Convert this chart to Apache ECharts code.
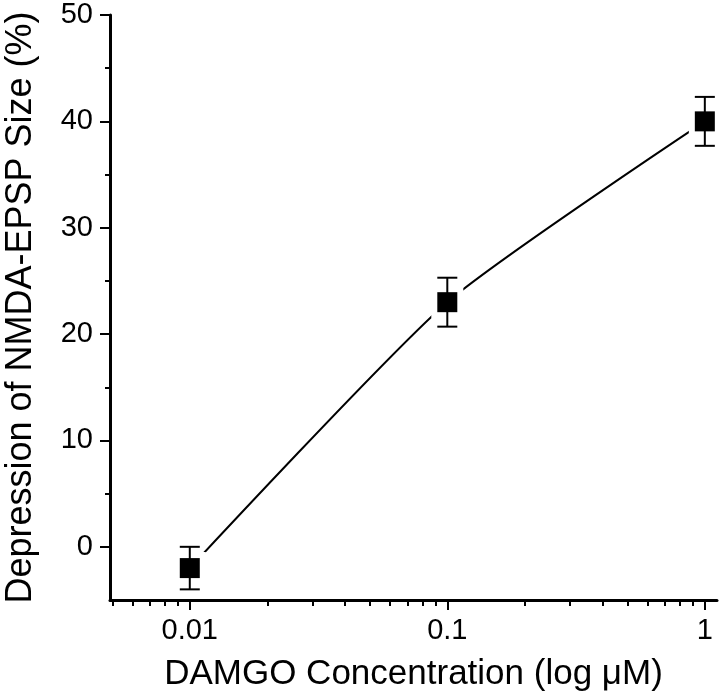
<!DOCTYPE html>
<html>
<head>
<meta charset="utf-8">
<script src="https://cdn.jsdelivr.net/npm/echarts@6/dist/echarts.min.js"></script>
<style>
html,body{margin:0;padding:0;background:#fff;}
#chart{width:720px;height:696px;}
</style>
</head>
<body>
<div id="chart"></div>
<script>
// Data
var concentrations = [0.01, 0.1, 1];          // DAMGO (µM)
var depression = [-2, 23, 40];                // % depression
var sem = [2, 2.3, 2.3];                       // error bar half-length
var xMajorTicks = [0.01, 0.1, 1];
var xMinorTicks = [0.005, 0.006, 0.007, 0.008, 0.009,
                   0.02, 0.03, 0.04, 0.05, 0.06, 0.07, 0.08, 0.09,
                   0.2, 0.3, 0.4, 0.5, 0.6, 0.7, 0.8, 0.9];
var yMajorTicks = [0, 10, 20, 30, 40, 50];
var yMinorTicks = [5, 15, 25, 35, 45];

var FONT = "'Liberation Sans', Arial, Helvetica, sans-serif";

var points = concentrations.map(function (c, i) { return [c, depression[i]]; });
var bars = concentrations.map(function (c, i) { return [c, depression[i] - sem[i], depression[i] + sem[i]]; });

var chart = echarts.init(document.getElementById('chart'), null, {renderer: 'canvas'});

var xBase = {
  type: 'log', logBase: 10, min: 0.0049, max: 1.115,
  splitLine: {show: false}, minorTick: {show: false}, minorSplitLine: {show: false}
};
var yBase = {
  type: 'value', min: -5, max: 50,
  splitLine: {show: false}, minorTick: {show: false}
};

var option = {
  backgroundColor: '#fff',
  animation: false,
  grid: {left: 110, right: 3, top: 15, bottom: 96, containLabel: false, outerBoundsMode: 'none'},
  xAxis: [
    Object.assign({}, xBase, {
      position: 'bottom',
      name: 'DAMGO Concentration (log \u03BCM)',
      nameLocation: 'middle', nameGap: 57,
      nameTextStyle: {fontFamily: FONT, fontSize: 35, color: '#000'},
      axisLine: {show: true, onZero: false, lineStyle: {color: '#000', width: 3}},
      axisTick: {show: true, inside: false, length: 10, lineStyle: {color: '#000', width: 2}, customValues: xMajorTicks},
      axisLabel: {show: true, margin: 16, fontFamily: FONT, fontSize: 29, color: '#000', customValues: xMajorTicks,
        formatter: function (v) { return String(v); }}
    }),
    Object.assign({}, xBase, {
      position: 'bottom',
      axisLine: {show: false, onZero: false},
      axisTick: {show: true, inside: false, length: 6, lineStyle: {color: '#000', width: 2}, customValues: xMinorTicks},
      axisLabel: {show: false}
    })
  ],
  yAxis: [
    Object.assign({}, yBase, {
      position: 'left',
      name: 'Depression of NMDA-EPSP Size (%)',
      nameLocation: 'middle', nameGap: 71,
      nameTextStyle: {fontFamily: FONT, fontSize: 36, color: '#000'},
      axisLine: {show: true, onZero: false, lineStyle: {color: '#000', width: 3}},
      axisTick: {show: true, inside: false, length: 10, lineStyle: {color: '#000', width: 2}, customValues: yMajorTicks},
      axisLabel: {show: true, margin: 17, fontFamily: FONT, fontSize: 29, color: '#000', customValues: yMajorTicks}
    }),
    Object.assign({}, yBase, {
      position: 'left',
      axisLine: {show: false, onZero: false},
      axisTick: {show: true, inside: false, length: 5, lineStyle: {color: '#000', width: 2}, customValues: yMinorTicks},
      axisLabel: {show: false}
    })
  ],
  series: [
    {
      type: 'line', data: points, smooth: 0.2, symbol: 'none',
      lineStyle: {color: '#000', width: 2}, z: 1, silent: true
    },
    {
      type: 'scatter', data: points, symbol: 'rect', symbolSize: 32,
      itemStyle: {color: '#fff', opacity: 1}, z: 2, silent: true
    },
    {
      type: 'scatter', data: points, symbol: 'rect', symbolSize: 20,
      itemStyle: {color: '#000', opacity: 1}, z: 3, silent: true
    },
    {
      type: 'custom', data: bars, z: 4, silent: true,
      renderItem: function (params, api) {
        var x = api.value(0);
        var lo = api.coord([x, api.value(1)]);
        var hi = api.coord([x, api.value(2)]);
        var hw = 10;
        var st = {stroke: '#000', lineWidth: 2};
        return {
          type: 'group',
          children: [
            {type: 'line', shape: {x1: lo[0], y1: lo[1], x2: hi[0], y2: hi[1]}, style: st},
            {type: 'line', shape: {x1: lo[0] - hw, y1: lo[1], x2: lo[0] + hw, y2: lo[1]}, style: st},
            {type: 'line', shape: {x1: hi[0] - hw, y1: hi[1], x2: hi[0] + hw, y2: hi[1]}, style: st}
          ]
        };
      }
    }
  ]
};
chart.setOption(option);
</script>
</body>
</html>
